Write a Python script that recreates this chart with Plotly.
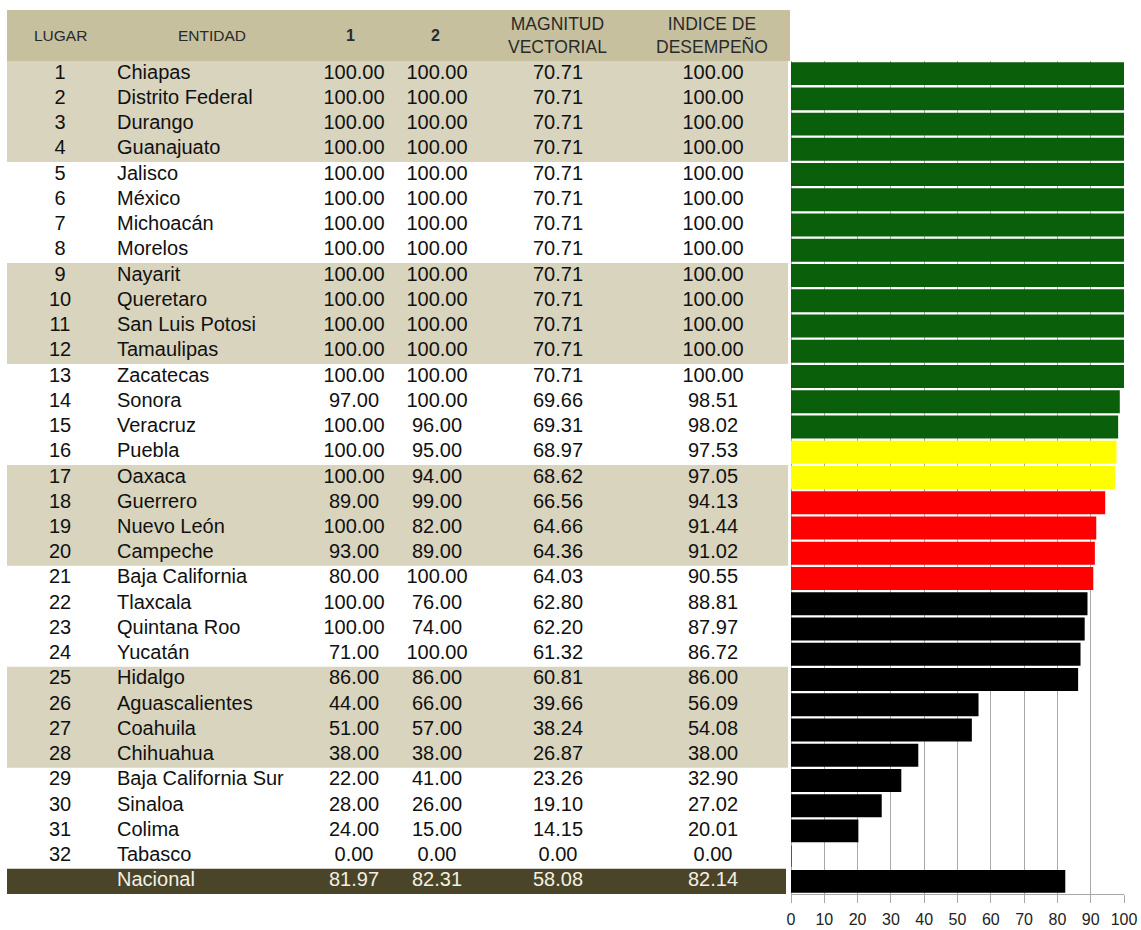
import plotly.graph_objects as go

# ---------------- data ----------------
lugar = [str(i) for i in range(1, 33)] + [""]
entidad = ["Chiapas", "Distrito Federal", "Durango", "Guanajuato", "Jalisco", "México",
           "Michoacán", "Morelos", "Nayarit", "Queretaro", "San Luis Potosi", "Tamaulipas",
           "Zacatecas", "Sonora", "Veracruz", "Puebla", "Oaxaca", "Guerrero", "Nuevo León",
           "Campeche", "Baja California", "Tlaxcala", "Quintana Roo", "Yucatán", "Hidalgo",
           "Aguascalientes", "Coahuila", "Chihuahua", "Baja California Sur", "Sinaloa",
           "Colima", "Tabasco", "Nacional"]
ind1 = [100]*13 + [97, 100, 100, 100, 89, 100, 93, 80, 100, 100, 71, 86, 44, 51, 38, 22, 28, 24, 0, 81.97]
ind2 = [100]*13 + [100, 96, 95, 94, 99, 82, 89, 100, 76, 74, 100, 86, 66, 57, 38, 41, 26, 15, 0, 82.31]
magnitud = [70.71]*13 + [69.66, 69.31, 68.97, 68.62, 66.56, 64.66, 64.36, 64.03, 62.80, 62.20,
                         61.32, 60.81, 39.66, 38.24, 26.87, 23.26, 19.10, 14.15, 0.00, 58.08]
indice = [100.00]*13 + [98.51, 98.02, 97.53, 97.05, 94.13, 91.44, 91.02, 90.55, 88.81, 87.97,
                        86.72, 86.00, 56.09, 54.08, 38.00, 32.90, 27.02, 20.01, 0.00, 82.14]
nivel = (["verde"]*15 + ["amarillo"]*2 + ["rojo"]*4 + ["negro"]*10 + ["verde"] + ["negro"])
tick_vals = list(range(0, 101, 10))

# ---------------- styles ----------------
W, H = 1141, 930
B = 36                     # bottom margin
PH = H - B                 # plot height in px
ROW_TOP = 61               # pixel where the rows begin
colores = {"verde": "#0A5F0A", "amarillo": "#FFFF00", "rojo": "#FF0000", "negro": "#000000"}
BEIGE = "#D8D4BE"
HEADER = "#C6C09E"
NAC = "#4A4428"
FONT = "Liberation Sans, Arial, sans-serif"

def px(xp):
    return xp / W

def py(yp):
    return (PH - yp) / PH

n = len(entidad)
rows = list(range(1, n + 1))
fmt = lambda v: f"{v:.2f}"

fig = go.Figure()

# bars
fig.add_trace(go.Bar(
    x=indice, y=rows, orientation="h", width=0.85,
    marker=dict(color=[colores[c] for c in nivel],
                line=dict(color=[colores[c] for c in nivel], width=1.5)),
    hoverinfo="skip", xaxis="x", yaxis="y", showlegend=False))

# table text
txt_color = ["#111111"] * (n - 1) + ["#F2F0E4"]
cols = [
    (60, lugar, "middle center"),
    (117, entidad, "middle right"),
    (354, [fmt(v) for v in ind1], "middle center"),
    (437, [fmt(v) for v in ind2], "middle center"),
    (558, [fmt(v) for v in magnitud], "middle center"),
    (713, [fmt(v) for v in indice], "middle center"),
]
for xpos, texts, pos in cols:
    fig.add_trace(go.Scatter(
        x=[xpos] * n, y=rows, text=texts, mode="text", textposition=pos,
        textfont=dict(family=FONT, size=20, color=txt_color),
        hoverinfo="skip", xaxis="x2", yaxis="y", showlegend=False, cliponaxis=False))

shapes = []
# header background
shapes.append(dict(type="rect", xref="paper", yref="paper", x0=px(7), x1=px(790),
                   y0=py(ROW_TOP), y1=py(10), fillcolor=HEADER, line=dict(width=0), layer="below"))
# banded rows (groups of 4)
for g in range(0, 32, 8):
    shapes.append(dict(type="rect", xref="paper", yref="y", x0=px(7), x1=px(788),
                       y0=g + 0.5, y1=g + 4.5, fillcolor=BEIGE, line=dict(width=0), layer="below"))
# Nacional row
shapes.append(dict(type="rect", xref="paper", yref="y", x0=px(7), x1=px(786),
                   y0=n - 0.5, y1=n + 0.55, fillcolor=NAC, line=dict(width=0), layer="below"))

annotations = []
headers = [(60, "LUGAR", 15.5), (212, "ENTIDAD", 15.5), (350, "<b>1</b>", 16), (435, "<b>2</b>", 16),
           (557, "MAGNITUD<br>VECTORIAL", 17.5), (712, "INDICE DE<br>DESEMPEÑO", 17.5)]
for xp, t, s in headers:
    annotations.append(dict(x=px(xp), y=py(35), xref="paper", yref="paper", text=t,
                            showarrow=False, xanchor="center", yanchor="middle",
                            font=dict(family=FONT, size=s, color="#2A2A2A")))

fig.update_layout(
    width=W, height=H, autosize=False,
    margin=dict(l=0, r=0, t=0, b=B, autoexpand=False),
    paper_bgcolor="white", plot_bgcolor="rgba(0,0,0,0)",
    shapes=shapes, annotations=annotations,
    xaxis=dict(domain=[px(791), px(1124)], range=[0, 100], tickvals=tick_vals,
               showgrid=True, gridcolor="#A8A8A8", gridwidth=1,
               zeroline=True, zerolinecolor="#A8A8A8", zerolinewidth=1,
               showline=True, linecolor="#A8A8A8", linewidth=1,
               ticks="outside", ticklen=8, tickcolor="#A8A8A8",
               ticklabelstandoff=3, automargin=False,
               tickfont=dict(family=FONT, size=16, color="#222222"),
               fixedrange=True),
    xaxis2=dict(domain=[0, 1], range=[0, W], anchor="y", visible=False,
                showgrid=False, zeroline=False, fixedrange=True, automargin=False),
    yaxis=dict(domain=[0, py(ROW_TOP)], range=[n + 0.5, 0.5], visible=False,
               showgrid=False, zeroline=False, fixedrange=True, automargin=False),
)

fig.write_html(
    "out.html",
    config={"responsive": False, "displayModeBar": False},
    post_script=("document.documentElement.style.overflow='hidden';"
                 "document.body.style.overflow='hidden';"
                 "document.body.style.margin='0px';"),
)
